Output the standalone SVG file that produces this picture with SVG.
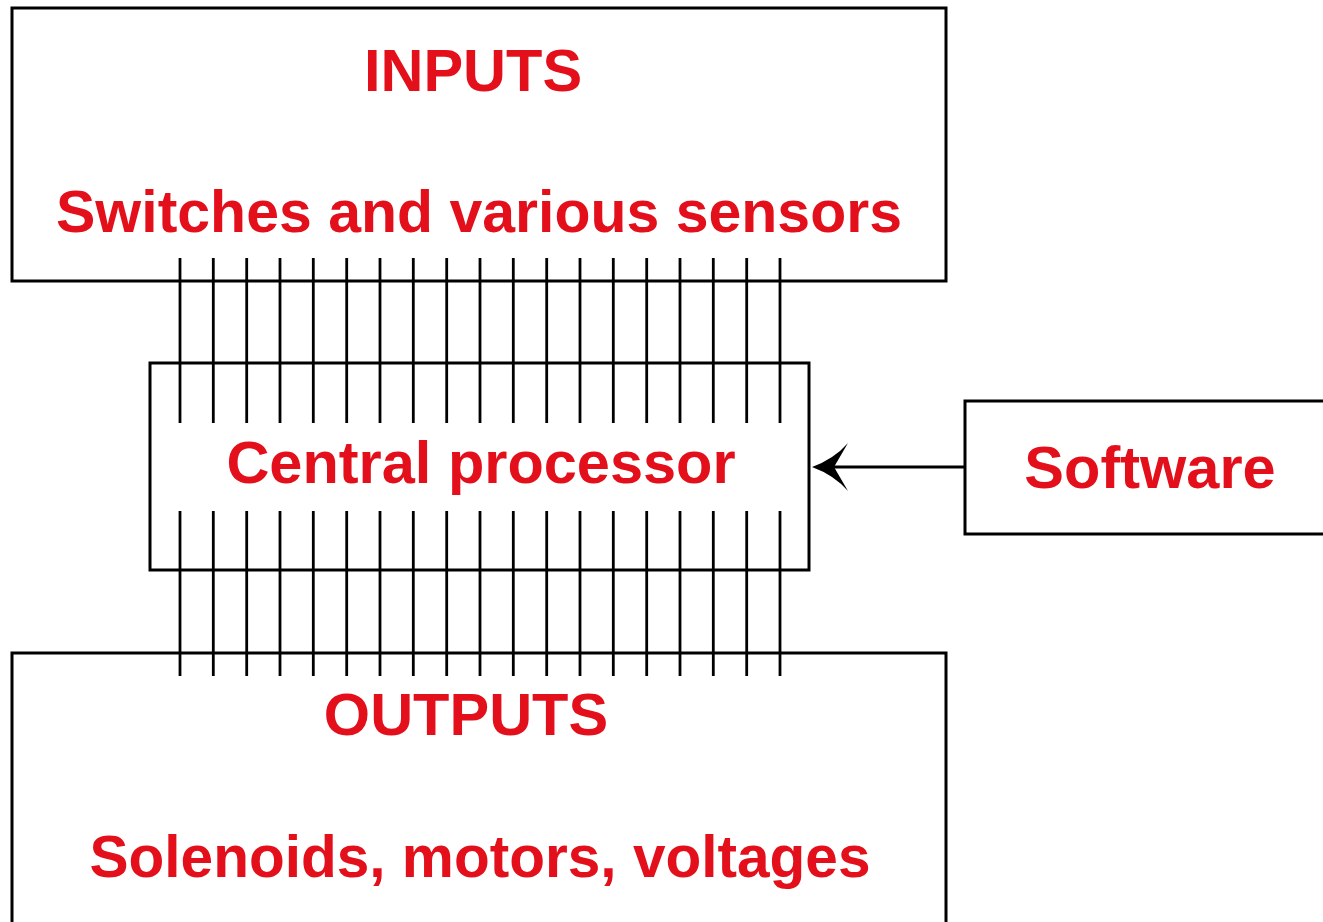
<svg xmlns="http://www.w3.org/2000/svg" width="1323" height="922" viewBox="0 0 1323 922">
<style>
.box{fill:#fff;stroke:#000;stroke-width:3}
.lbl{font-family:"Liberation Sans",Arial,sans-serif;font-weight:bold;font-size:59.5px;fill:#e3101c;text-anchor:middle}
.bus line{stroke:#000;stroke-width:2.8}
</style>
<rect width="1323" height="922" fill="#fff"/>
<g id="inputs">
<rect class="box" x="12" y="8" width="934" height="273"/>
<text class="lbl" x="473" y="91">INPUTS</text>
<text class="lbl" x="479" y="232" textLength="846" lengthAdjust="spacingAndGlyphs">Switches and various sensors</text>
</g>
<g id="cpu">
<rect class="box" x="150" y="363" width="659" height="207"/>
<text class="lbl" x="481" y="483">Central processor</text>
</g>
<g id="software">
<rect class="box" x="965" y="401" width="370" height="133"/>
<text class="lbl" x="1150" y="488">Software</text>
</g>
<g id="outputs">
<path class="box" d="M12,930 V653 H946 V930"/>
<text class="lbl" x="466" y="735">OUTPUTS</text>
<text class="lbl" x="480" y="877" textLength="781" lengthAdjust="spacingAndGlyphs">Solenoids, motors, voltages</text>
</g>
<g id="connectors">
<g class="bus">
<line x1="180" y1="258" x2="180" y2="423"/><line x1="213.3" y1="258" x2="213.3" y2="423"/><line x1="246.7" y1="258" x2="246.7" y2="423"/><line x1="280" y1="258" x2="280" y2="423"/><line x1="313.3" y1="258" x2="313.3" y2="423"/><line x1="346.7" y1="258" x2="346.7" y2="423"/><line x1="380" y1="258" x2="380" y2="423"/><line x1="413.3" y1="258" x2="413.3" y2="423"/><line x1="446.7" y1="258" x2="446.7" y2="423"/><line x1="480" y1="258" x2="480" y2="423"/><line x1="513.3" y1="258" x2="513.3" y2="423"/><line x1="546.7" y1="258" x2="546.7" y2="423"/><line x1="580" y1="258" x2="580" y2="423"/><line x1="613.3" y1="258" x2="613.3" y2="423"/><line x1="646.7" y1="258" x2="646.7" y2="423"/><line x1="680" y1="258" x2="680" y2="423"/><line x1="713.3" y1="258" x2="713.3" y2="423"/><line x1="746.7" y1="258" x2="746.7" y2="423"/><line x1="780" y1="258" x2="780" y2="423"/>
</g>
<g class="bus">
<line x1="180" y1="511" x2="180" y2="676"/><line x1="213.3" y1="511" x2="213.3" y2="676"/><line x1="246.7" y1="511" x2="246.7" y2="676"/><line x1="280" y1="511" x2="280" y2="676"/><line x1="313.3" y1="511" x2="313.3" y2="676"/><line x1="346.7" y1="511" x2="346.7" y2="676"/><line x1="380" y1="511" x2="380" y2="676"/><line x1="413.3" y1="511" x2="413.3" y2="676"/><line x1="446.7" y1="511" x2="446.7" y2="676"/><line x1="480" y1="511" x2="480" y2="676"/><line x1="513.3" y1="511" x2="513.3" y2="676"/><line x1="546.7" y1="511" x2="546.7" y2="676"/><line x1="580" y1="511" x2="580" y2="676"/><line x1="613.3" y1="511" x2="613.3" y2="676"/><line x1="646.7" y1="511" x2="646.7" y2="676"/><line x1="680" y1="511" x2="680" y2="676"/><line x1="713.3" y1="511" x2="713.3" y2="676"/><line x1="746.7" y1="511" x2="746.7" y2="676"/><line x1="780" y1="511" x2="780" y2="676"/>
</g>
<line x1="965" y1="467" x2="830" y2="467" stroke="#000" stroke-width="3"/>
<path d="M812,467 Q834,459 848,443 L834,467 L848,491 Q834,475 812,467 Z" fill="#000"/>
</g>
</svg>
